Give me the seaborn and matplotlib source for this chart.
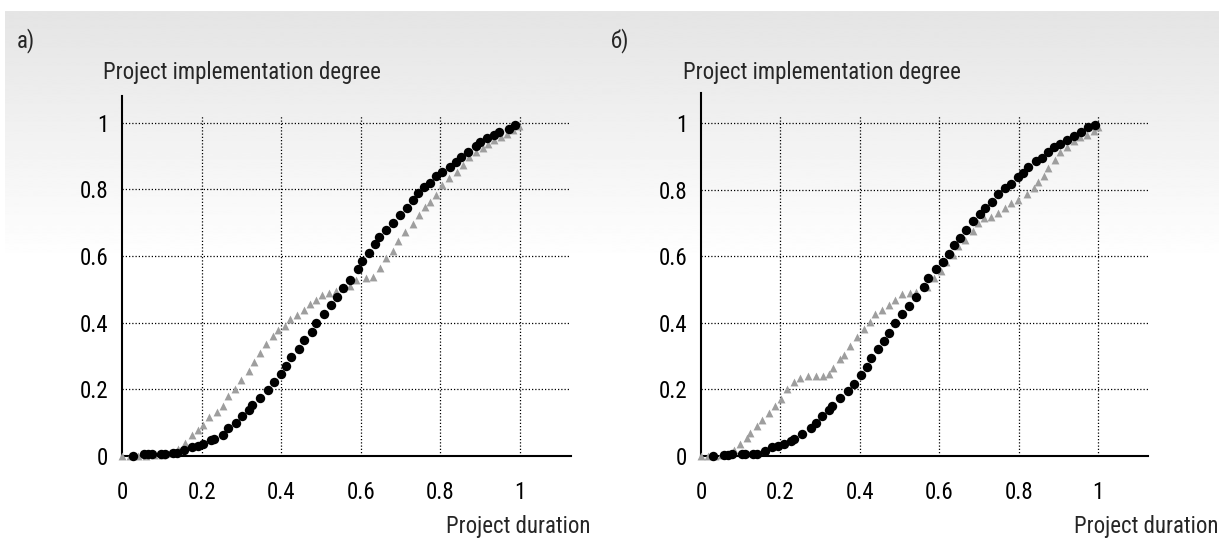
import numpy as np
import pandas as pd
import matplotlib
matplotlib.use("Agg")
import matplotlib.pyplot as plt
from matplotlib import font_manager
import seaborn as sns

# ---------------- data ----------------
ticks = [0, 0.2, 0.4, 0.6, 0.8, 1.0]
tick_labels = ["0", "0.2", "0.4", "0.6", "0.8", "1"]

a_circle_x = [0.028, 0.055, 0.065, 0.075, 0.099, 0.107, 0.129, 0.137, 0.157, 0.175,
              0.19, 0.203, 0.224, 0.232, 0.253, 0.267, 0.286, 0.301, 0.32, 0.327,
              0.346, 0.366, 0.381, 0.399, 0.413, 0.425, 0.445, 0.456, 0.477, 0.487,
              0.508, 0.524, 0.54, 0.556, 0.572, 0.593, 0.604, 0.621, 0.635, 0.646,
              0.663, 0.68, 0.698, 0.715, 0.73, 0.744, 0.758, 0.775, 0.79, 0.805,
              0.824, 0.838, 0.852, 0.868, 0.889, 0.899, 0.916, 0.935, 0.946, 0.971, 0.987]
a_circle_y = [0, 0.005, 0.005, 0.005, 0.007, 0.007, 0.008, 0.008, 0.017, 0.026,
              0.03, 0.036, 0.047, 0.052, 0.063, 0.085, 0.10, 0.12, 0.139, 0.154,
              0.173, 0.197, 0.223, 0.245, 0.27, 0.296, 0.322, 0.347, 0.373, 0.40,
              0.425, 0.452, 0.478, 0.505, 0.528, 0.56, 0.585, 0.61, 0.635, 0.658,
              0.677, 0.70, 0.724, 0.744, 0.768, 0.789, 0.806, 0.819, 0.84, 0.853,
              0.868, 0.881, 0.898, 0.913, 0.929, 0.941, 0.955, 0.962, 0.973, 0.982, 0.992]

a_tri_x = [0, 0.02, 0.04, 0.06, 0.08, 0.10, 0.12, 0.14, 0.159, 0.175,
           0.19, 0.203, 0.218, 0.239, 0.253, 0.266, 0.284, 0.299, 0.318, 0.332,
           0.347, 0.362, 0.379, 0.392, 0.409, 0.423, 0.439, 0.456, 0.473, 0.487,
           0.502, 0.52, 0.537, 0.556, 0.574, 0.589, 0.614, 0.631, 0.648, 0.662,
           0.681, 0.694, 0.711, 0.73, 0.746, 0.761, 0.775, 0.79, 0.805, 0.821,
           0.841, 0.857, 0.873, 0.889, 0.906, 0.92, 0.935, 0.951, 0.966, 0.982, 0.998]
a_tri_y = [0, 0, 0, 0.001, 0.002, 0.004, 0.008, 0.02, 0.04, 0.063,
           0.078, 0.092, 0.117, 0.131, 0.151, 0.179, 0.201, 0.229, 0.256, 0.281,
           0.31, 0.335, 0.36, 0.377, 0.39, 0.41, 0.422, 0.437, 0.455, 0.467,
           0.482, 0.49, 0.495, 0.503, 0.51, 0.527, 0.535, 0.538, 0.565, 0.593,
           0.615, 0.645, 0.673, 0.695, 0.723, 0.746, 0.763, 0.784, 0.813, 0.833,
           0.851, 0.874, 0.896, 0.912, 0.925, 0.937, 0.947, 0.957, 0.967, 0.977, 0.989]

b_circle_x = [0.031, 0.059, 0.069, 0.077, 0.103, 0.111, 0.132, 0.14, 0.16, 0.178,
              0.195, 0.208, 0.226, 0.234, 0.255, 0.277, 0.289, 0.304, 0.321, 0.329,
              0.35, 0.37, 0.384, 0.402, 0.417, 0.429, 0.445, 0.46, 0.472, 0.489,
              0.506, 0.524, 0.54, 0.561, 0.572, 0.592, 0.608, 0.623, 0.636, 0.653,
              0.667, 0.684, 0.701, 0.715, 0.732, 0.748, 0.764, 0.78, 0.797, 0.81,
              0.824, 0.842, 0.857, 0.873, 0.888, 0.904, 0.921, 0.938, 0.956, 0.973, 0.992]
b_circle_y = [0, 0.003, 0.004, 0.005, 0.006, 0.006, 0.007, 0.007, 0.016, 0.026,
              0.031, 0.037, 0.046, 0.051, 0.065, 0.083, 0.098, 0.119, 0.137, 0.151,
              0.173, 0.194, 0.217, 0.243, 0.267, 0.294, 0.32, 0.344, 0.37, 0.40,
              0.425, 0.45, 0.478, 0.508, 0.533, 0.563, 0.583, 0.608, 0.633, 0.655,
              0.68, 0.706, 0.726, 0.746, 0.764, 0.786, 0.804, 0.818, 0.838, 0.851,
              0.869, 0.886, 0.896, 0.912, 0.929, 0.937, 0.949, 0.961, 0.972, 0.987, 0.994]

b_tri_x = [0, 0.018, 0.035, 0.05, 0.065, 0.082, 0.098, 0.115, 0.124, 0.14,
           0.153, 0.17, 0.185, 0.202, 0.216, 0.235, 0.25, 0.269, 0.289, 0.306,
           0.321, 0.331, 0.35, 0.361, 0.376, 0.392, 0.409, 0.426, 0.439, 0.455,
           0.472, 0.489, 0.506, 0.526, 0.541, 0.569, 0.587, 0.603, 0.617, 0.634,
           0.648, 0.665, 0.684, 0.698, 0.713, 0.73, 0.747, 0.766, 0.78, 0.799,
           0.821, 0.837, 0.849, 0.862, 0.873, 0.891, 0.904, 0.921, 0.938, 0.955,
           0.971, 0.988, 1.0]
b_tri_y = [0, 0, 0, 0.002, 0.006, 0.018, 0.036, 0.053, 0.068, 0.09,
           0.107, 0.129, 0.151, 0.172, 0.201, 0.221, 0.234, 0.241, 0.241, 0.241,
           0.247, 0.264, 0.291, 0.302, 0.33, 0.358, 0.38, 0.402, 0.425, 0.438,
           0.452, 0.468, 0.485, 0.488, 0.492, 0.507, 0.535, 0.557, 0.583, 0.605,
           0.63, 0.65, 0.677, 0.70, 0.716, 0.718, 0.73, 0.746, 0.761, 0.769,
           0.786, 0.804, 0.823, 0.841, 0.866, 0.888, 0.912, 0.927, 0.947, 0.957,
           0.965, 0.977, 0.989]

panel_labels = ["а)", "б)"]
y_title = "Project implementation degree"
x_title = "Project duration"

# ---------------- style ----------------
sns.set_theme(style="white")
available = {f.name for f in font_manager.fontManager.ttflist}
family, FS = "Liberation Sans", 15
for name, size in [("Roboto Condensed", 16.5), ("Archivo Narrow", 17),
                   ("PT Sans Narrow", 17.5), ("Liberation Sans Narrow", 17.5)]:
    if name in available:
        family, FS = name, size
        break
plt.rcParams["font.family"] = [family, "DejaVu Sans"]

W, H = 1219, 540
fig = plt.figure(figsize=(W / 100, H / 100), dpi=100)
fig.patch.set_facecolor("white")

# background gradient
bg = fig.add_axes([0, 0, 1, 1], zorder=-10)
bg.set_xlim(0, W)
bg.set_ylim(H, 0)
grad = np.linspace(0.895, 1.0, 256).reshape(-1, 1)
bg.imshow(grad, cmap="gray", vmin=0, vmax=1, aspect="auto",
          extent=[5, W, 262, 11], interpolation="bilinear")
bg.axis("off")

GRAY = "#9e9e9e"
dots = (0, (1, 1.6))

def make_panel(rect, xmax, ymax, cx, cy, tx, ty):
    ax = fig.add_axes(rect)
    ax.set_facecolor("none")
    df_t = pd.DataFrame({"x": tx, "y": ty})
    df_c = pd.DataFrame({"x": cx, "y": cy})
    sns.scatterplot(data=df_t, x="x", y="y", marker="^", s=32, color=GRAY,
                    linewidth=0, ax=ax, clip_on=False, zorder=3)
    sns.scatterplot(data=df_c, x="x", y="y", marker="o", s=46, color="black",
                    linewidth=0, ax=ax, clip_on=False, zorder=4)
    ax.set_xlim(0, xmax)
    ax.set_ylim(0, ymax)
    ax.set_xticks(ticks)
    ax.set_xticklabels(tick_labels)
    ax.set_yticks(ticks)
    ax.set_yticklabels(tick_labels)
    ax.set_xlabel("")
    ax.set_ylabel("")
    for s in ["top", "right"]:
        ax.spines[s].set_visible(False)
    for s in ["left", "bottom"]:
        ax.spines[s].set_color("black")
        ax.spines[s].set_linewidth(1.5)
    ax.tick_params(axis="both", direction="out", length=5, width=1,
                   color="black", labelcolor="black", labelsize=FS)
    ax.tick_params(axis="x", pad=13)
    ax.tick_params(axis="y", pad=5)
    ax.hlines(ticks[1:], 0, xmax, colors="black", linestyles=dots, linewidth=0.9, zorder=1)
    ax.vlines(ticks[1:], 0, 1.02, colors="black", linestyles=dots, linewidth=0.9, zorder=1)
    return ax

ax_a = make_panel([122 / W, 84 / H, 449 / W, 360 / H], 1.128, 1.08,
                  a_circle_x, a_circle_y, a_tri_x, a_tri_y)
ax_b = make_panel([701 / W, 84 / H, 447 / W, 363 / H], 1.125, 1.09,
                  b_circle_x, b_circle_y, b_tri_x, b_tri_y)

# texts
fig.text(17 / W, 1 - 47 / H, panel_labels[0], fontsize=FS, ha="left", va="baseline")
fig.text(611 / W, 1 - 47 / H, panel_labels[1], fontsize=FS, ha="left", va="baseline")
fig.text(103 / W, 1 - 79 / H, y_title, fontsize=FS, ha="left", va="baseline")
fig.text(683 / W, 1 - 79 / H, y_title, fontsize=FS, ha="left", va="baseline")
fig.text(590 / W, 1 - 533 / H, x_title, fontsize=FS, ha="right", va="baseline")
fig.text(1218 / W, 1 - 533 / H, x_title, fontsize=FS, ha="right", va="baseline")

fig.savefig("out.png", dpi=100)
